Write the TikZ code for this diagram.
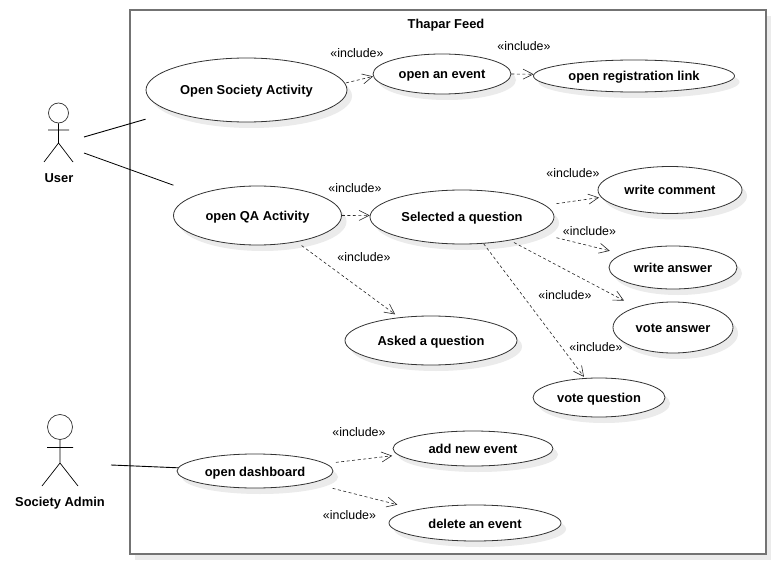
\documentclass[tikz,border=0pt]{standalone}
\usepackage{fontspec}
\setmainfont{Liberation Sans}
\usetikzlibrary{arrows.meta,shapes.geometric,shadows}
\tikzset{
  softshadow/.style={drop shadow={shadow xshift=5pt,shadow yshift=-6pt,fill=black!8,opacity=1}},
  usecase/.style 2 args={ellipse,draw=black!80,line width=.8pt,fill=white,inner sep=0pt,
    text height=10pt,text depth=0pt,
    minimum width=#1pt,minimum height=#2pt,font=\fontsize{12.9}{15}\selectfont\bfseries,softshadow},
  assoc/.style={draw=black,line width=.9pt},
  include/.style={draw=black!85,line width=.6pt,dash pattern=on 3pt off 2.5pt,
    -{Straight Barb[length=10pt,width=10pt,line width=.6pt]}},
  stereo/.style={font=\fontsize{12.4}{14}\selectfont},
  actorname/.style={font=\fontsize{12.9}{15}\selectfont\bfseries,text height=10pt,text depth=0pt},
}
\begin{document}
\begin{tikzpicture}[x=1pt,y=-1pt]
  \useasboundingbox (0,0) rectangle (776,564);
  \node[draw=black!55,line width=1.5pt,fill=white,minimum width=636pt,minimum height=544pt,
    inner sep=0pt,softshadow] (feed) at (448,282) {};
  \node[actorname] (feedname) at (446,24) {Thapar Feed};
  % use cases
  \node[usecase={201}{64}] (society) at (246.5,90) {Open Society Activity};
  \node[usecase={138}{40}] (event) at (442,74) {open an event};
  \node[usecase={201}{32}] (reglink) at (634,76) {open registration link};
  \node[usecase={168}{59}] (qa) at (257.5,215.5) {open QA Activity};
  \node[usecase={184}{54}] (selected) at (462,217) {Selected a question};
  \node[usecase={144}{47}] (comment) at (670,190) {write comment};
  \node[usecase={128}{43}] (wanswer) at (673,267.5) {write answer};
  \node[usecase={120}{51}] (vanswer) at (673,327.5) {vote answer};
  \node[usecase={132}{39}] (vquestion) at (599,397.5) {vote question};
  \node[usecase={172}{49}] (asked) at (431,340.5) {Asked a question};
  \node[usecase={156}{34}] (dashboard) at (255,471) {open dashboard};
  \node[usecase={160}{35}] (addevent) at (473,448.5) {add new event};
  \node[usecase={172}{36}] (delevent) at (475,523) {delete an event};
  % actors
  \node[circle,draw=black!80,line width=.7pt,inner sep=0pt,minimum size=20pt] (userhead) at (58.5,113) {};
  \draw[line width=.7pt] (userhead.south) -- (58.5,143) (48,130) -- (69,130)
    (44,162) -- (58.5,143) -- (73,162);
  \node[actorname] (username) at (59,177.5) {User};
  \node[circle,draw=black!80,line width=.7pt,inner sep=0pt,minimum size=25pt] (adminhead) at (60,427) {};
  \draw[line width=.7pt] (adminhead.south) -- (60,463) (47,447.5) -- (73,447.5)
    (42,486) -- (60,463) -- (78,486);
  \node[actorname] (adminname) at (60,501) {Society Admin};
  \coordinate (userA) at (84,137);
  \coordinate (userB) at (84,153);
  \coordinate (adminA) at (111,465);
  \draw[assoc,shorten >=27pt] (userA) -- (society);
  \draw[assoc,line width=.8pt,shorten >=26.5pt] (userB) -- (qa);
  \draw[assoc] (adminA) -- (dashboard);
  % include arrows
  \draw[include,shorten <=1pt] (society.4.5) -- (event.182.5);
  \draw[include] (event.0) -- (reglink.179);
  \draw[include] (qa.0) -- (selected.179);
  \draw[include,shorten <=11pt,shorten >=2pt] (selected.8.7) -- (comment.186);
  \draw[include,shorten <=20pt,shorten >=13pt] (selected.-12) -- (wanswer.165);
  \draw[include,shorten <=4.5pt,shorten >=13.6pt] (selected.-26) -- (vanswer.151.5);
  \draw[include,shorten >=1.5pt] (selected.-51) -- (vquestion.126.4);
  \draw[include,shorten <=6pt,shorten >=5pt] (qa.-34.6) -- (asked.144);
  \draw[include,shorten <=10pt,shorten >=6pt] (dashboard.6.6) -- (addevent.185.3);
  \draw[include,shorten <=21.6pt,shorten >=19.6pt] (dashboard.-12.3) -- (delevent.167.2);
  % stereotypes
  \foreach \n/\x/\y in {a/357/53,b/524/46,c/355/188,d/364/257,e/573/173,f/589.5/231,g/565/295,h/596/347,i/359/432,j/349.5/515}
    \node[stereo] (inc\n) at (\x,\y) {«include»};
\end{tikzpicture}
\end{document}
